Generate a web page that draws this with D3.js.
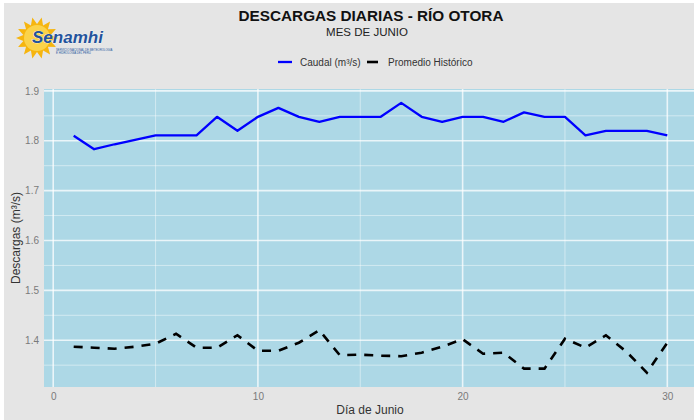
<!DOCTYPE html>
<html>
<head>
  <meta charset="utf-8">
  <title>Descargas diarias - Río Otora</title>
  <script src="https://d3js.org/d3.v7.min.js"></script>
  <style>
    body { margin: 0; background: #ffffff; font-family: 'Liberation Sans', Arial, sans-serif; }
    .axis text { font-size: 10px; fill: #7a7a7a; }
    .axis path, .axis line { display: none; }
  </style>
</head>
<body>
  <div id="chart"></div>
  <script>
    // daily data, June
    const days = d3.range(1, 31);
    const caudal = [1.81, 1.783, 1.793, 1.802, 1.811, 1.811, 1.811, 1.848, 1.82, 1.848,
                    1.866, 1.848, 1.838, 1.848, 1.848, 1.848, 1.876, 1.848, 1.838, 1.848,
                    1.848, 1.838, 1.857, 1.848, 1.848, 1.811, 1.82, 1.82, 1.82, 1.811];
    const promedio = [1.387, 1.385, 1.383, 1.387, 1.393, 1.413, 1.385, 1.385, 1.41, 1.379,
                      1.379, 1.395, 1.42, 1.37, 1.371, 1.369, 1.368, 1.375, 1.387, 1.402,
                      1.373, 1.375, 1.343, 1.343, 1.403, 1.385, 1.41, 1.377, 1.335, 1.395];
    const xTicks = [0, 10, 20, 30];
    const xMinor = [5, 15, 25];
    const yTicks = [1.4, 1.5, 1.6, 1.7, 1.8, 1.9];
    const yMinor = [1.35, 1.45, 1.55, 1.65, 1.75, 1.85];

    const W = 694, H = 420;
    const panel = { left: 44, right: 697, top: 89, bottom: 387 };

    const svg = d3.select("#chart").append("svg")
      .attr("width", W).attr("height", H);

    // outer background
    svg.append("rect").attr("x", 4).attr("y", 3).attr("width", W - 4).attr("height", H - 3)
      .attr("fill", "#e5e5e5");

    const x = d3.scaleLinear().domain([-0.45, 31.45]).range([panel.left, panel.right]);
    const y = d3.scaleLinear().domain([1.3062, 1.9038]).range([panel.bottom, panel.top]);

    // panel
    svg.append("rect")
      .attr("x", panel.left).attr("y", panel.top)
      .attr("width", panel.right - panel.left).attr("height", panel.bottom - panel.top)
      .attr("fill", "#add8e6");

    const grid = svg.append("g");
    grid.selectAll(".ymin").data(yMinor).join("line")
      .attr("x1", panel.left).attr("x2", panel.right)
      .attr("y1", d => y(d)).attr("y2", d => y(d))
      .attr("stroke", "#ffffff").attr("stroke-opacity", 0.45).attr("stroke-width", 1);
    grid.selectAll(".xmin").data(xMinor).join("line")
      .attr("y1", panel.top).attr("y2", panel.bottom)
      .attr("x1", d => x(d)).attr("x2", d => x(d))
      .attr("stroke", "#ffffff").attr("stroke-opacity", 0.45).attr("stroke-width", 1);
    grid.selectAll(".ymaj").data(yTicks).join("line")
      .attr("x1", panel.left).attr("x2", panel.right)
      .attr("y1", d => y(d)).attr("y2", d => y(d))
      .attr("stroke", "#ffffff").attr("stroke-opacity", 0.75).attr("stroke-width", 1.6);
    grid.selectAll(".xmaj").data(xTicks).join("line")
      .attr("y1", panel.top).attr("y2", panel.bottom)
      .attr("x1", d => x(d)).attr("x2", d => x(d))
      .attr("stroke", "#ffffff").attr("stroke-opacity", 0.75).attr("stroke-width", 1.6);

    // axes
    svg.append("g").attr("class", "axis")
      .attr("transform", `translate(0,${panel.bottom})`)
      .call(d3.axisBottom(x).tickValues(xTicks).tickSize(0).tickPadding(6).tickFormat(d3.format("d")));
    svg.append("g").attr("class", "axis")
      .attr("transform", `translate(${panel.left},0)`)
      .call(d3.axisLeft(y).tickValues(yTicks).tickSize(0).tickPadding(5).tickFormat(d3.format(".1f")));

    // lines
    const line = d3.line().x((d, i) => x(days[i])).y(d => y(d));
    svg.append("path").datum(promedio)
      .attr("d", line).attr("fill", "none")
      .attr("stroke", "#000000").attr("stroke-width", 2.6)
      .attr("stroke-dasharray", "9,8");
    svg.append("path").datum(caudal)
      .attr("d", line).attr("fill", "none")
      .attr("stroke", "#0000ff").attr("stroke-width", 2.3)
      .attr("stroke-linejoin", "round");

    // titles
    svg.append("text").attr("x", 371).attr("y", 21).attr("text-anchor", "middle")
      .attr("font-size", 15.3).attr("font-weight", "bold").attr("fill", "#111")
      .text("DESCARGAS DIARIAS - RÍO OTORA");
    svg.append("text").attr("x", 367).attr("y", 36).attr("text-anchor", "middle")
      .attr("font-size", 11.5).attr("fill", "#222")
      .text("MES DE JUNIO");

    svg.append("text").attr("x", 370).attr("y", 414).attr("text-anchor", "middle")
      .attr("font-size", 12).attr("fill", "#333").text("Día de Junio");
    svg.append("text").attr("transform", `translate(20,${(panel.top + panel.bottom) / 2}) rotate(-90)`)
      .attr("text-anchor", "middle").attr("font-size", 12).attr("fill", "#333")
      .text("Descargas (m³/s)");

    // legend
    const leg = svg.append("g").attr("font-size", 10).attr("fill", "#333");
    leg.append("line").attr("x1", 278).attr("x2", 292).attr("y1", 62).attr("y2", 62)
      .attr("stroke", "#0000ff").attr("stroke-width", 2.3);
    leg.append("text").attr("x", 300).attr("y", 65.5).text("Caudal (m³/s)");
    leg.append("line").attr("x1", 367).attr("x2", 378).attr("y1", 62).attr("y2", 62)
      .attr("stroke", "#000").attr("stroke-width", 2.6);
    leg.append("text").attr("x", 388).attr("y", 65.5).text("Promedio Histórico");

    // logo
    const logo = svg.append("g").attr("transform", "translate(37,38)");
    const rays = 14;
    const pts = d3.range(rays * 2).map(i => {
      const a = i * Math.PI / rays;
      const r = i % 2 ? 14 : 21;
      return [r * Math.cos(a), r * Math.sin(a)];
    });
    logo.append("path").attr("d", d3.line().curve(d3.curveLinearClosed)(pts)).attr("fill", "#f6b50f");
    logo.append("circle").attr("r", 13).attr("fill", "#fbd34a");
    svg.append("text").attr("x", 32).attr("y", 43).attr("font-size", 17)
      .attr("font-weight", "bold").attr("font-style", "italic").attr("fill", "#23539c")
      .attr("stroke", "#ffffff").attr("stroke-width", 0.6).attr("paint-order", "stroke")
      .text("Senamhi");
    svg.append("text").attr("x", 56).attr("y", 50.5).attr("font-size", 2.8).attr("fill", "#23539c")
      .text("SERVICIO NACIONAL DE METEOROLOGÍA");
    svg.append("text").attr("x", 56).attr("y", 53.5).attr("font-size", 2.8).attr("fill", "#23539c")
      .text("E HIDROLOGÍA DEL PERÚ");
  </script>
</body>
</html>
